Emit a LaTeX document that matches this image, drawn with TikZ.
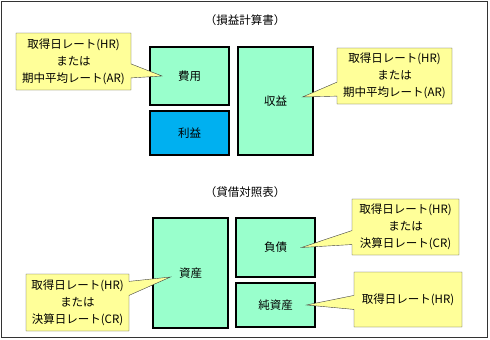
\documentclass[tikz,border=0pt]{standalone}
\usepackage{fontspec}
\usepackage{xcolor}
\usepackage{tikz}
\usetikzlibrary{positioning,shapes.callouts}
\newfontfamily\jpfont{Noto Sans CJK JP}
\definecolor{mint}{HTML}{99FFCC}
\definecolor{skyblue}{HTML}{00B0F0}
\definecolor{notefill}{HTML}{FFFF99}

\begin{document}
\begin{tikzpicture}[x=1pt, y=-1pt, node distance=6pt,
			every node/.style={font=\jpfont\fontsize{11.5}{17}\selectfont},
			box/.style={draw, line width=1.6pt, fill=mint, inner sep=0pt, outer sep=0pt, align=center},
			note/.style={rectangle callout, draw=black!75, fill=notefill, align=center, inner sep=1pt, callout pointer width=14pt}]
			
			\useasboundingbox (0,0) rectangle (490,340);
			\draw[black!80, line width=1pt] (1,1) rectangle (487,337);
			
			\node (pltitle) at (245,20) {（損益計算書）};
			\node[box, minimum width=79pt, minimum height=58pt] (cost) at (189.5,76) {費用};
			\node[box, fill=skyblue, minimum width=79pt, minimum height=44pt, below=of cost] (profit) {利益};
			\node[box, minimum width=75pt, minimum height=108pt, right=9pt of cost.north east, anchor=north west] (revenue) {収益};
			
			\node (bstitle) at (245,192) {（貸借対照表）};
			\node[box, minimum width=75pt, minimum height=110pt] (asset) at (190.5,273) {資産};
			\node[box, minimum width=79pt, minimum height=59pt, right=8pt of asset.north east, anchor=north west] (liability) {負債};
			\node[box, minimum width=79pt, minimum height=44pt, below=of liability] (equity) {純資産};
			
			\node[note, minimum width=115pt, minimum height=57pt, callout absolute pointer={([xshift=12pt]cost.west)}] (costnote) at (73.5,61.5) {取得日レート(HR)\\または\\期中平均レート(AR)};
			\node[note, minimum width=115pt, minimum height=56pt, callout absolute pointer={([xshift=27pt,yshift=4pt]revenue.center)}] (revenuenote) at (394.5,76) {取得日レート(HR)\\または\\期中平均レート(AR)};
			\node[note, minimum width=103pt, minimum height=57pt, callout absolute pointer={([xshift=-20pt,yshift=-4pt]asset.center)}] (assetnote) at (77.5,302.5) {取得日レート(HR)\\または\\決算日レート(CR)};
			\node[note, minimum width=107pt, minimum height=56pt, callout absolute pointer={([xshift=26pt]liability.center)}] (liabilitynote) at (405.5,227) {取得日レート(HR)\\または\\決算日レート(CR)};
			\node[note, minimum width=108pt, minimum height=55pt, callout absolute pointer={([xshift=31pt]equity.center)}] (equitynote) at (408,299.5) {取得日レート(HR)};
			
		\end{tikzpicture}
\end{document}
